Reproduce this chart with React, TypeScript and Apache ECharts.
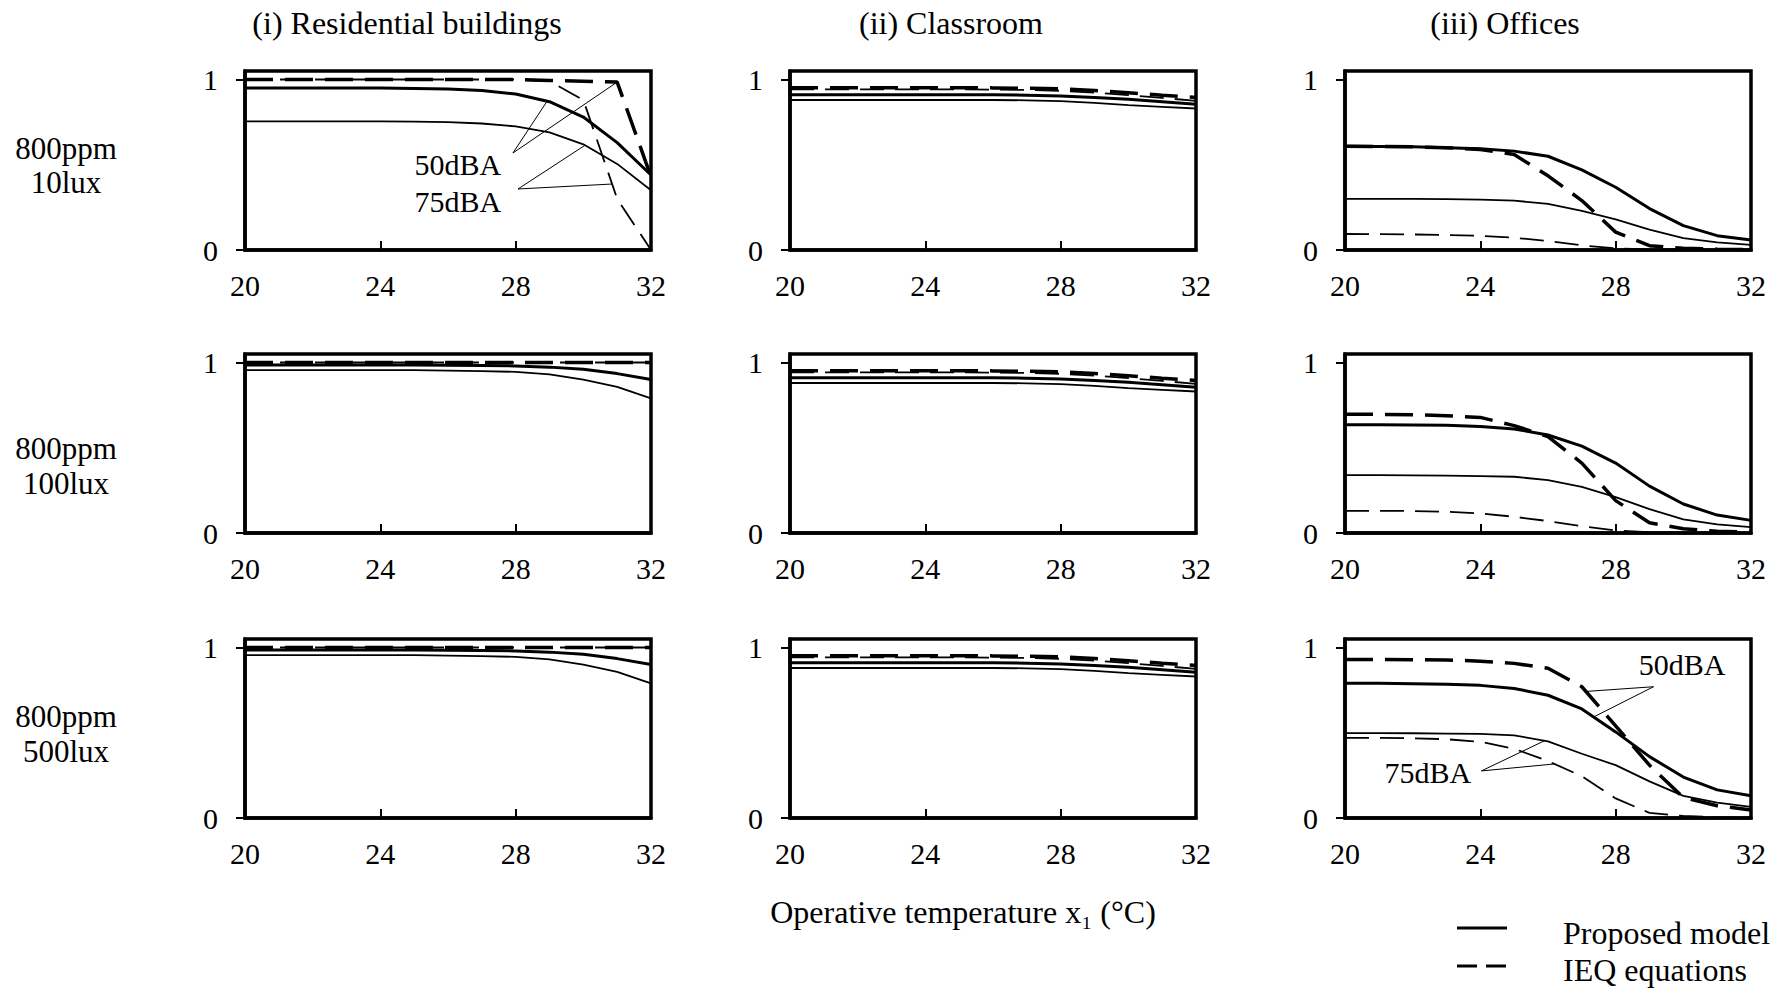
import React, { useEffect, useRef } from 'react';
import * as echarts from 'echarts';

const FONT = "'Liberation Serif', 'Times New Roman', Times, serif";

// ---------- axes / labels ----------
const temperatures = [20, 21, 22, 23, 24, 25, 26, 27, 28, 29, 30, 31, 32];
const xTickValues = [20, 24, 28, 32];
const yTickValues = [0, 1];
const columnTitles = ['(i) Residential buildings', '(ii) Classroom', '(iii) Offices'];
const rowLabels = [
  ['800ppm', '10lux'],
  ['800ppm', '100lux'],
  ['800ppm', '500lux'],
];
const xAxisTitle = 'Operative temperature x\u2081 (\u00B0C)';
const legendLabels = ['Proposed model', 'IEQ equations'];

// ---------- data (x = 20..32 °C) ----------
// Residential, 10 lux
const res10Prop50 = [0.95, 0.95, 0.95, 0.95, 0.95, 0.948, 0.945, 0.935, 0.915, 0.87, 0.78, 0.63, 0.44];
const res10Prop75 = [0.755, 0.755, 0.755, 0.755, 0.755, 0.753, 0.75, 0.742, 0.725, 0.69, 0.62, 0.505, 0.35];
const res10Ieq50 = [1, 1, 1, 1, 1, 1, 1, 1, 1, 0.995, 0.99, 0.985, 0.43];
const res10Ieq75 = [1, 1, 1, 1, 1, 1, 1, 1, 1, 0.99, 0.88, 0.3, 0.0];
// Residential, 100 lux
const res100Prop50 = [0.985, 0.985, 0.985, 0.985, 0.985, 0.985, 0.984, 0.983, 0.98, 0.973, 0.96, 0.935, 0.9];
const res100Prop75 = [0.955, 0.955, 0.955, 0.955, 0.955, 0.955, 0.953, 0.95, 0.945, 0.93, 0.9, 0.857, 0.79];
const res100Ieq50 = [1, 1, 1, 1, 1, 1, 1, 1, 1, 1, 1, 1, 1];
const res100Ieq75 = [1, 1, 1, 1, 1, 1, 1, 1, 1, 1, 1, 1, 1];
// Residential, 500 lux
const res500Prop50 = [0.985, 0.985, 0.985, 0.985, 0.985, 0.985, 0.984, 0.983, 0.98, 0.973, 0.96, 0.935, 0.9];
const res500Prop75 = [0.955, 0.955, 0.955, 0.955, 0.955, 0.955, 0.953, 0.95, 0.945, 0.93, 0.9, 0.857, 0.79];
const res500Ieq50 = [1, 1, 1, 1, 1, 1, 1, 1, 1, 1, 1, 1, 1];
const res500Ieq75 = [1, 1, 1, 1, 1, 1, 1, 1, 1, 1, 1, 1, 1];
// Classroom (all three lighting levels)
const clsProp50 = [0.91, 0.91, 0.91, 0.91, 0.91, 0.91, 0.91, 0.908, 0.904, 0.895, 0.884, 0.87, 0.855];
const clsProp75 = [0.88, 0.88, 0.88, 0.88, 0.88, 0.88, 0.88, 0.878, 0.873, 0.863, 0.85, 0.84, 0.83];
const clsIeq50 = [0.952, 0.952, 0.952, 0.952, 0.952, 0.952, 0.951, 0.949, 0.945, 0.935, 0.922, 0.908, 0.895];
const clsIeq75 = [0.942, 0.942, 0.942, 0.942, 0.942, 0.942, 0.941, 0.939, 0.934, 0.923, 0.908, 0.892, 0.875];
// Offices, 10 lux
const off10Prop50 = [0.608, 0.607, 0.605, 0.6, 0.594, 0.58, 0.55, 0.47, 0.368, 0.243, 0.143, 0.084, 0.059];
const off10Prop75 = [0.3, 0.3, 0.3, 0.298, 0.295, 0.29, 0.27, 0.23, 0.18, 0.12, 0.07, 0.045, 0.03];
const off10Ieq50 = [0.608, 0.607, 0.605, 0.6, 0.59, 0.56, 0.435, 0.29, 0.105, 0.025, 0.01, 0.005, 0.002];
const off10Ieq75 = [0.094, 0.093, 0.091, 0.088, 0.083, 0.072, 0.052, 0.027, 0.01, 0.004, 0.002, 0.001, 0.0];
// Offices, 100 lux
const off100Prop50 = [0.635, 0.635, 0.634, 0.632, 0.625, 0.61, 0.575, 0.51, 0.41, 0.275, 0.17, 0.105, 0.074];
const off100Prop75 = [0.34, 0.34, 0.338, 0.336, 0.334, 0.33, 0.31, 0.27, 0.21, 0.14, 0.08, 0.05, 0.035];
const off100Ieq50 = [0.697, 0.696, 0.694, 0.688, 0.678, 0.63, 0.566, 0.41, 0.19, 0.06, 0.025, 0.01, 0.005];
const off100Ieq75 = [0.13, 0.13, 0.129, 0.125, 0.115, 0.095, 0.07, 0.04, 0.015, 0.005, 0.002, 0.001, 0.0];
// Offices, 500 lux
const off500Prop50 = [0.79, 0.79, 0.788, 0.785, 0.778, 0.76, 0.72, 0.64, 0.505, 0.36, 0.24, 0.165, 0.13];
const off500Prop75 = [0.498, 0.498, 0.497, 0.495, 0.493, 0.485, 0.45, 0.377, 0.31, 0.215, 0.13, 0.09, 0.065];
const off500Ieq50 = [0.93, 0.93, 0.929, 0.927, 0.92, 0.907, 0.878, 0.77, 0.54, 0.31, 0.12, 0.072, 0.047];
const off500Ieq75 = [0.47, 0.47, 0.468, 0.462, 0.447, 0.406, 0.334, 0.245, 0.115, 0.03, 0.012, 0.004, 0.001];

type Panel = { p50: number[]; p75: number[]; i50: number[]; i75: number[] };
const panels: Panel[][] = [
  [
    { p50: res10Prop50, p75: res10Prop75, i50: res10Ieq50, i75: res10Ieq75 },
    { p50: clsProp50, p75: clsProp75, i50: clsIeq50, i75: clsIeq75 },
    { p50: off10Prop50, p75: off10Prop75, i50: off10Ieq50, i75: off10Ieq75 },
  ],
  [
    { p50: res100Prop50, p75: res100Prop75, i50: res100Ieq50, i75: res100Ieq75 },
    { p50: clsProp50, p75: clsProp75, i50: clsIeq50, i75: clsIeq75 },
    { p50: off100Prop50, p75: off100Prop75, i50: off100Ieq50, i75: off100Ieq75 },
  ],
  [
    { p50: res500Prop50, p75: res500Prop75, i50: res500Ieq50, i75: res500Ieq75 },
    { p50: clsProp50, p75: clsProp75, i50: clsIeq50, i75: clsIeq75 },
    { p50: off500Prop50, p75: off500Prop75, i50: off500Ieq50, i75: off500Ieq75 },
  ],
];

// annotations: text anchor + leader start in data coords, leader targets on series at x
const annotations = [
  { row: 0, col: 0, text: '50dBA', at: [27.57, 0.5], align: 'right', from: [27.92, 0.569], targets: [['p50', 28.93], ['i50', 31.0]] },
  { row: 0, col: 0, text: '75dBA', at: [27.57, 0.287], align: 'right', from: [28.07, 0.358], targets: [['p75', 30.05], ['i75', 30.85]] },
  { row: 2, col: 2, text: '50dBA', at: [28.68, 0.898], align: 'left', from: [29.12, 0.77], targets: [['i50', 27.12], ['p50', 27.35]] },
  { row: 2, col: 2, text: '75dBA', at: [23.73, 0.268], align: 'right', from: [24.03, 0.276], targets: [['p75', 25.9], ['i75', 26.19]] },
];

// ---------- layout ----------
const gridLefts = [245, 790, 1345];
const gridTops = [71, 354, 639];
const gridWidth = 406;
const gridHeight = 179;
const Y_MAX = 1.05;

const seriesStyles: Record<string, { width: number; type: any }> = {
  p50: { width: 3, type: 'solid' },
  p75: { width: 1.8, type: 'solid' },
  i50: { width: 3.5, type: [28, 12] },
  i75: { width: 1.8, type: [24, 11] },
};

function interp(vals: number[], x: number) {
  const i = Math.min(Math.floor(x - temperatures[0]), temperatures.length - 2);
  const t = x - temperatures[i];
  return vals[i] + (vals[i + 1] - vals[i]) * t;
}

export default function App() {
  const ref = useRef<HTMLDivElement>(null);

  useEffect(() => {
    if (!ref.current) return;
    const chart = echarts.init(ref.current, undefined, { renderer: 'svg' });

    const grids: any[] = [];
    const xAxes: any[] = [];
    const yAxes: any[] = [];
    const series: any[] = [];

    const textStyle = { color: '#000', fontFamily: FONT, fontSize: 30 };

    for (let r = 0; r < 3; r++) {
      for (let c = 0; c < 3; c++) {
        const gi = r * 3 + c;
        grids.push({
          left: gridLefts[c],
          top: gridTops[r],
          width: gridWidth,
          height: gridHeight,
          show: true,
          borderColor: '#000',
          borderWidth: 3.5,
          backgroundColor: 'transparent',
          containLabel: false,
        });
        xAxes.push({
          type: 'value',
          gridIndex: gi,
          min: 20,
          max: 32,
          interval: 4,
          axisLine: { show: true, lineStyle: { color: '#000', width: 3.5 } },
          axisTick: { show: true, inside: true, length: 9, lineStyle: { color: '#000', width: 2 } },
          axisLabel: { ...textStyle, margin: 20, customValues: xTickValues },
          splitLine: { show: false },
        });
        yAxes.push({
          type: 'value',
          gridIndex: gi,
          min: 0,
          max: Y_MAX,
          interval: 1,
          axisLine: { show: true, lineStyle: { color: '#000', width: 3.5 } },
          axisTick: { show: true, inside: false, length: 9, lineStyle: { color: '#000', width: 2 }, customValues: yTickValues },
          axisLabel: {
            ...textStyle,
            margin: 27,
            customValues: yTickValues,
            formatter: (v: number) => (v === 0 || v === 1 ? String(v) : ''),
          },
          splitLine: { show: false },
        });
        const p = panels[r][c];
        (['p75', 'i75', 'p50', 'i50'] as const).forEach((key) => {
          const st = seriesStyles[key];
          series.push({
            type: 'line',
            name: `${r}-${c}-${key}`,
            xAxisIndex: gi,
            yAxisIndex: gi,
            data: temperatures.map((t, i) => [t, p[key][i]]),
            symbol: 'none',
            showSymbol: false,
            smooth: false,
            silent: true,
            lineStyle: { color: '#000', width: st.width, type: st.type },
            z: 3,
          });
        });
      }
    }

    const staticGraphics: any[] = [];
    const colTitleX = [407, 951, 1505];
    columnTitles.forEach((t, i) => {
      staticGraphics.push({
        type: 'text',
        x: colTitleX[i],
        y: 23,
        style: { text: t, fill: '#000', fontFamily: FONT, fontSize: 32, align: 'center', verticalAlign: 'middle' },
      });
    });
    const rowLabelY = [
      [148, 182],
      [448, 483],
      [716, 751],
    ];
    rowLabels.forEach((lines, r) => {
      lines.forEach((t, k) => {
        staticGraphics.push({
          type: 'text',
          x: 66,
          y: rowLabelY[r][k],
          style: { text: t, fill: '#000', fontFamily: FONT, fontSize: 31, align: 'center', verticalAlign: 'middle' },
        });
      });
    });
    staticGraphics.push({
      type: 'text',
      x: 963,
      y: 912,
      style: { text: xAxisTitle, fill: '#000', fontFamily: FONT, fontSize: 32, align: 'center', verticalAlign: 'middle' },
    });
    // legend
    staticGraphics.push({
      type: 'line',
      shape: { x1: 1457, y1: 928, x2: 1507, y2: 928 },
      style: { stroke: '#000', lineWidth: 3 },
    });
    staticGraphics.push({
      type: 'line',
      shape: { x1: 1457, y1: 966, x2: 1507, y2: 966 },
      style: { stroke: '#000', lineWidth: 3, lineDash: [20, 9] },
    });
    legendLabels.forEach((t, k) => {
      staticGraphics.push({
        type: 'text',
        x: 1563,
        y: k === 0 ? 933 : 970,
        style: { text: t, fill: '#000', fontFamily: FONT, fontSize: 32, align: 'left', verticalAlign: 'middle' },
      });
    });

    chart.setOption({
      animation: false,
      backgroundColor: '#fff',
      textStyle: { fontFamily: FONT },
      grid: grids,
      xAxis: xAxes,
      yAxis: yAxes,
      series,
    });

    // annotations, positioned through the chart's own coordinate conversion
    const annGraphics: any[] = [];
    annotations.forEach((a) => {
      const gi = a.row * 3 + a.col;
      const p = panels[a.row][a.col] as any;
      const txt = chart.convertToPixel({ gridIndex: gi }, a.at) as number[];
      const from = chart.convertToPixel({ gridIndex: gi }, a.from) as number[];
      annGraphics.push({
        type: 'text',
        x: txt[0],
        y: txt[1],
        z: 10,
        style: { text: a.text, fill: '#000', fontFamily: FONT, fontSize: 30, align: a.align, verticalAlign: 'middle' },
      });
      a.targets.forEach(([key, x]: any) => {
        const to = chart.convertToPixel({ gridIndex: gi }, [x, interp(p[key], x)]) as number[];
        annGraphics.push({
          type: 'line',
          z: 10,
          shape: { x1: from[0], y1: from[1], x2: to[0], y2: to[1] },
          style: { stroke: '#000', lineWidth: 1 },
        });
      });
    });

    chart.setOption({ graphic: [...staticGraphics, ...annGraphics] });

    return () => {
      chart.dispose();
    };
  }, []);

  return (
    <div
      ref={ref}
      style={{ position: 'fixed', left: 0, top: 0, width: 1784, height: 989, background: '#fff' }}
    />
  );
}
